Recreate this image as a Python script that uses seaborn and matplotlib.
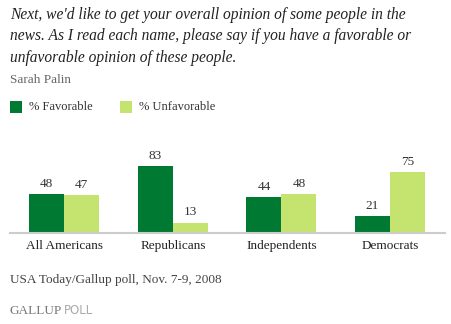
import matplotlib
matplotlib.use("Agg")
import matplotlib.pyplot as plt
import seaborn as sns
import pandas as pd

categories = ["All Americans", "Republicans", "Independents", "Democrats"]
favorable = [48, 83, 44, 21]
unfavorable = [47, 13, 48, 75]
series = ["% Favorable", "% Unfavorable"]
colors = ["#007A33", "#C5E46F"]

df = pd.DataFrame({
    "group": categories * 2,
    "value": favorable + unfavorable,
    "series": [series[0]] * 4 + [series[1]] * 4,
})

sns.set_theme(style="white")
plt.rcParams["font.family"] = ["Liberation Serif", "DejaVu Serif"]

W, H = 452, 324
fig = plt.figure(figsize=(W / 100, H / 100), dpi=100)
fig.patch.set_facecolor("white")

def px(x, y):
    return x / W, 1 - y / H

# axes: x 10..445 px, baseline at y=233, 0.807 px per unit
base = 233
scale = 0.807
ymax = 100
ax = fig.add_axes([10 / W, (H - base) / H, 435 / W, ymax * scale / H])
sns.barplot(data=df, x="group", y="value", hue="series", palette=colors,
            width=0.645, gap=0, linewidth=0, saturation=1, ax=ax, legend=False,
            order=categories, hue_order=series)
ax.set_xlim(-0.5, 3.506)
ax.set_ylim(0, ymax)
ax.set_xlabel("")
ax.set_ylabel("")
ax.set_yticks([])
for s in ["top", "right", "left"]:
    ax.spines[s].set_visible(False)
ax.spines["bottom"].set_color("#cccccc")
ax.spines["bottom"].set_linewidth(1.5)
ax.tick_params(axis="x", length=0, pad=5, labelsize=9.5, labelcolor="#222222")
ax.set_facecolor("none")
for c in ax.containers:
    ax.bar_label(c, fmt="%d", padding=3, fontsize=9.5, color="#333333")

# titles
title_lines = [
    "Next, we'd like to get your overall opinion of some people in the",
    "news. As I read each name, please say if you have a favorable or",
    "unfavorable opinion of these people.",
]
for i, line in enumerate(title_lines):
    fig.text(*px(10, 15 + i * 21.5), line, fontsize=11.2, style="italic",
             color="#222222", va="center", ha="left")
fig.text(*px(10, 80), "Sarah Palin", fontsize=9.5, color="#666666",
         va="center", ha="left")

# legend
for (x0, lab, col) in [(10, series[0], colors[0]), (120, series[1], colors[1])]:
    fig.patches.append(plt.Rectangle(px(x0, 113), 12 / W, 12 / H,
                                     transform=fig.transFigure,
                                     facecolor=col, edgecolor="none"))
    fig.text(*px(x0 + 19, 107), lab, fontsize=9, color="#333333",
             va="center", ha="left")

fig.text(*px(10, 280), "USA Today/Gallup poll, Nov. 7-9, 2008", fontsize=9.5,
         color="#444444", va="center", ha="left")
fig.text(*px(10, 311), "GALLUP", fontsize=9.5, color="#777777",
         va="center", ha="left")
fig.text(*px(64, 311), "POLL", fontsize=8.5, color="#aaaaaa",
         va="center", ha="left", family="DejaVu Sans")

fig.savefig("out.png", dpi=100, facecolor="white")
